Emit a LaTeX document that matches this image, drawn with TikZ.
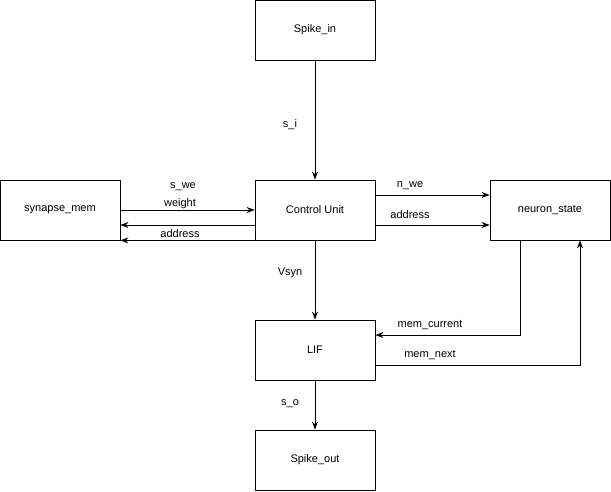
\documentclass[tikz,border=0pt]{standalone}
\usepackage{fontspec}
\setmainfont{Liberation Sans}
\usetikzlibrary{arrows.meta}
\begin{document}
\begin{tikzpicture}[x=1pt,y=-1pt,
  box/.style={draw,line width=0.8pt,minimum width=120pt,minimum height=60pt,inner sep=0pt,font=\fontsize{11}{13}\selectfont},
  arr/.style={draw,line width=0.8pt,-{Stealth[length=8pt,width=6pt]}},
  lab/.style={font=\fontsize{11}{13}\selectfont,inner sep=1pt}]
\useasboundingbox (0,0) rectangle (611,491);
\node[box] (sin) at (315,30) {Spike\_in};
\node[box] (cu) at (315,210) {Control Unit};
\node[box] (sm) at (60,210) {synapse\_mem};
\node[box] (ns) at (550,210) {neuron\_state};
\node[box] (lif) at (315,350) {LIF};
\node[box] (sout) at (315,460) {Spike\_out};
\coordinate (c1) at (520,335);
\coordinate (c2) at (580,365);
\draw[arr] (sin) -- (cu);
\node[lab] at (290,125) {s\_i};
\draw[arr] ([yshift=-15pt]cu.west) -- ([yshift=-15pt]sm.east);
\node[lab] at (183,187) {s\_we};
\draw[arr] (sm.east) -- (cu.west);
\node[lab] at (180,204) {weight};
\draw[arr] (cu.south west) -- (sm.south east);
\node[lab] at (180,234) {address};
\draw[arr] ([yshift=-15pt]cu.east) -- ([yshift=-15pt]ns.west);
\node[lab] at (410,186) {n\_we};
\draw[arr] ([yshift=15pt]cu.east) -- ([yshift=15pt]ns.west);
\node[lab] at (410,215) {address};
\draw[arr] (cu) -- (lif);
\node[lab] at (290,273) {Vsyn};
\draw[arr] (ns.south west -| c1) -- (c1) -- (c1 -| lif.east);
\node[lab] at (430,325) {mem\_current};
\draw[arr] (c2 -| lif.east) -- (c2) -- (c2 |- ns.south);
\node[lab] at (430,355) {mem\_next};
\draw[arr] (lif) -- (sout);
\node[lab] at (290,404) {s\_o};
\end{tikzpicture}
\end{document}
